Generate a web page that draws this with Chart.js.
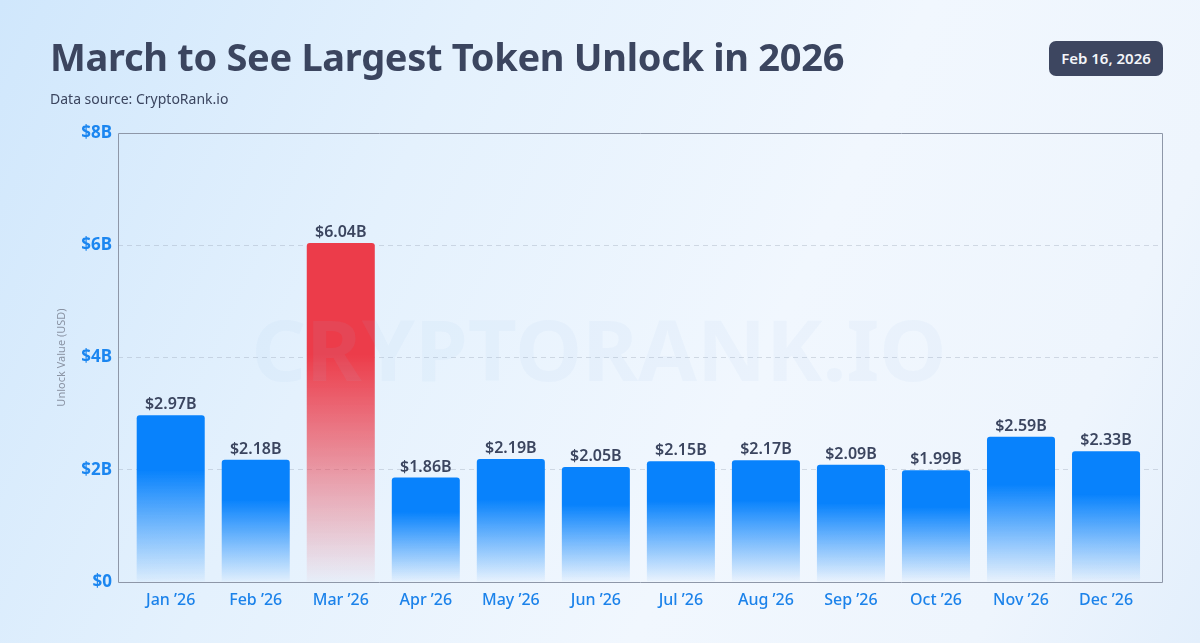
<!DOCTYPE html>
<html>
<head>
<meta charset="utf-8">
<script src="https://cdn.jsdelivr.net/npm/chart.js@4.4.1/dist/chart.umd.min.js"></script>
<style>
  html, body { margin: 0; padding: 0; }
  body {
    width: 1200px; height: 643px; overflow: hidden; position: relative;
    background: linear-gradient(115deg, #d0e7fc 0%, #e4f1fd 32%, #f1f7fe 62%, #eef5fd 85%, #e3effc 100%);
    font-family: "Noto Sans", sans-serif;
  }
  #wrap { position: absolute; left: 0; top: 0; width: 1200px; height: 643px; }
  #title {
    position: absolute; left: 50px; top: 30px; margin: 0;
    font-size: 38px; font-weight: 700; color: #3b455f; letter-spacing: -0.3px; white-space: nowrap;
  }
  #sub {
    position: absolute; left: 50px; top: 89px; margin: 0;
    font-size: 14px; font-weight: 400; color: #3b455f; white-space: nowrap;
  }
  #badge {
    position: absolute; left: 1049px; top: 41px; width: 114px; height: 35px;
    background: #3d4660; border-radius: 7px; color: #f3f5f9;
    font-size: 15px; font-weight: 600; line-height: 35px; text-align: center;
  }
</style>
</head>
<body>
<div id="wrap"><canvas id="c" width="1200" height="643"></canvas></div>
<h1 id="title">March to See Largest Token Unlock in 2026</h1>
<p id="sub">Data source: CryptoRank.io</p>
<div id="badge">Feb 16, 2026</div>
<script>
const months = ["Jan \u201926", "Feb \u201926", "Mar \u201926", "Apr \u201926", "May \u201926", "Jun \u201926",
                "Jul \u201926", "Aug \u201926", "Sep \u201926", "Oct \u201926", "Nov \u201926", "Dec \u201926"];
const unlockValues = [2.97, 2.18, 6.04, 1.86, 2.19, 2.05, 2.15, 2.17, 2.09, 1.99, 2.59, 2.33];
const highlightIndex = 2;
const yTicks = [0, 2, 4, 6, 8];

const BLUE = [8, 130, 252];
const RED = [236, 60, 74];

function barFill(ctx) {
  const chart = ctx.chart;
  const i = ctx.dataIndex;
  const c = i === highlightIndex ? RED : BLUE;
  const solid = `rgb(${c[0]},${c[1]},${c[2]})`;
  if (!chart.chartArea || !chart.scales.y) return solid;
  const y = chart.scales.y;
  const top = y.getPixelForValue(unlockValues[i]);
  const bot = y.getPixelForValue(0);
  const g = chart.ctx.createLinearGradient(0, top, 0, bot);
  g.addColorStop(0, solid);
  g.addColorStop(0.33, solid);
  g.addColorStop(0.7, `rgba(${c[0]},${c[1]},${c[2]},0.45)`);
  g.addColorStop(1, `rgba(${c[0]},${c[1]},${c[2]},0.02)`);
  return g;
}

const framePlugin = {
  id: 'frame',
  afterDraw(chart) {
    const { ctx, chartArea: a } = chart;
    ctx.save();
    ctx.strokeStyle = '#8e97a8';
    ctx.lineWidth = 1;
    ctx.beginPath();
    ctx.moveTo(a.left + 0.5, a.bottom + 0.5);
    ctx.lineTo(a.left + 0.5, a.top + 0.5);
    ctx.lineTo(a.right - 0.5, a.top + 0.5);
    ctx.lineTo(a.right - 0.5, a.bottom + 0.5);
    ctx.lineTo(a.left + 0.5, a.bottom + 0.5);
    ctx.stroke();
    ctx.restore();
  }
};

const labelPlugin = {
  id: 'barLabels',
  afterDatasetsDraw(chart) {
    const { ctx } = chart;
    const meta = chart.getDatasetMeta(0);
    ctx.save();
    ctx.font = '700 85px "Noto Sans", sans-serif';
    ctx.fillStyle = 'rgba(150,190,232,0.08)';
    ctx.textAlign = 'center';
    ctx.textBaseline = 'alphabetic';
    ctx.fillText('CRYPTORANK.IO', 599, 381);
    ctx.font = '600 16px "Noto Sans", sans-serif';
    ctx.fillStyle = '#3b455f';
    ctx.textAlign = 'center';
    ctx.textBaseline = 'alphabetic';
    meta.data.forEach((el, i) => {
      ctx.fillText('$' + unlockValues[i].toFixed(2) + 'B', el.x, el.y - 6);
    });
    ctx.restore();
  }
};

new Chart(document.getElementById('c'), {
  type: 'bar',
  data: {
    datasets: [{
      data: unlockValues.map((v, i) => ({ x: i, y: v })),
      backgroundColor: barFill,
      borderRadius: 3,
      borderSkipped: 'start',
      categoryPercentage: 0.8,
      barPercentage: 1.0
    }]
  },
  options: {
    responsive: false,
    animation: false,
    devicePixelRatio: 1,
    layout: { padding: { left: 51, right: 37, top: 133, bottom: 0 } },
    plugins: { legend: { display: false }, tooltip: { enabled: false } },
    scales: {
      x: {
        type: 'linear',
        offset: false,
        min: -0.62,
        max: 11.67,
        afterFit(s) { s.height = 61; },
        grid: { display: false, drawTicks: false, offset: false },
        border: { display: false },
        ticks: {
          stepSize: 1,
          includeBounds: false,
          autoSkip: false,
          maxRotation: 0,
          padding: 9,
          color: '#1b82ea',
          font: { family: '"Noto Sans", sans-serif', size: 16, weight: '500' },
          callback: (v) => (Number.isInteger(v) && months[v] !== undefined) ? months[v] : ''
        }
      },
      y: {
        min: 0,
        max: 8,
        afterFit(s) { s.width = 67; },
        afterBuildTicks(s) { s.ticks = yTicks.map(v => ({ value: v })); },
        grid: {
          drawTicks: false,
          color: (c) => (c.tick && (c.tick.value === 0 || c.tick.value === 8)) ? 'rgba(0,0,0,0)' : 'rgba(150,160,178,0.35)',
          lineWidth: 1
        },
        border: { display: false, dash: [5, 4] },
        ticks: {
          padding: 6,
          color: '#1b86f0',
          font: { family: '"Noto Sans", sans-serif', size: 17, weight: '700' },
          callback: (v) => '$' + v + (v === 0 ? '' : 'B')
        },
        title: {
          display: true,
          text: 'Unlock Value (USD)',
          color: '#8a93a3',
          font: { family: '"Noto Sans", sans-serif', size: 11, weight: '400' },
          padding: { top: 4, bottom: 4 }
        }
      }
    }
  },
  plugins: [framePlugin, labelPlugin]
});
</script>
</body>
</html>
